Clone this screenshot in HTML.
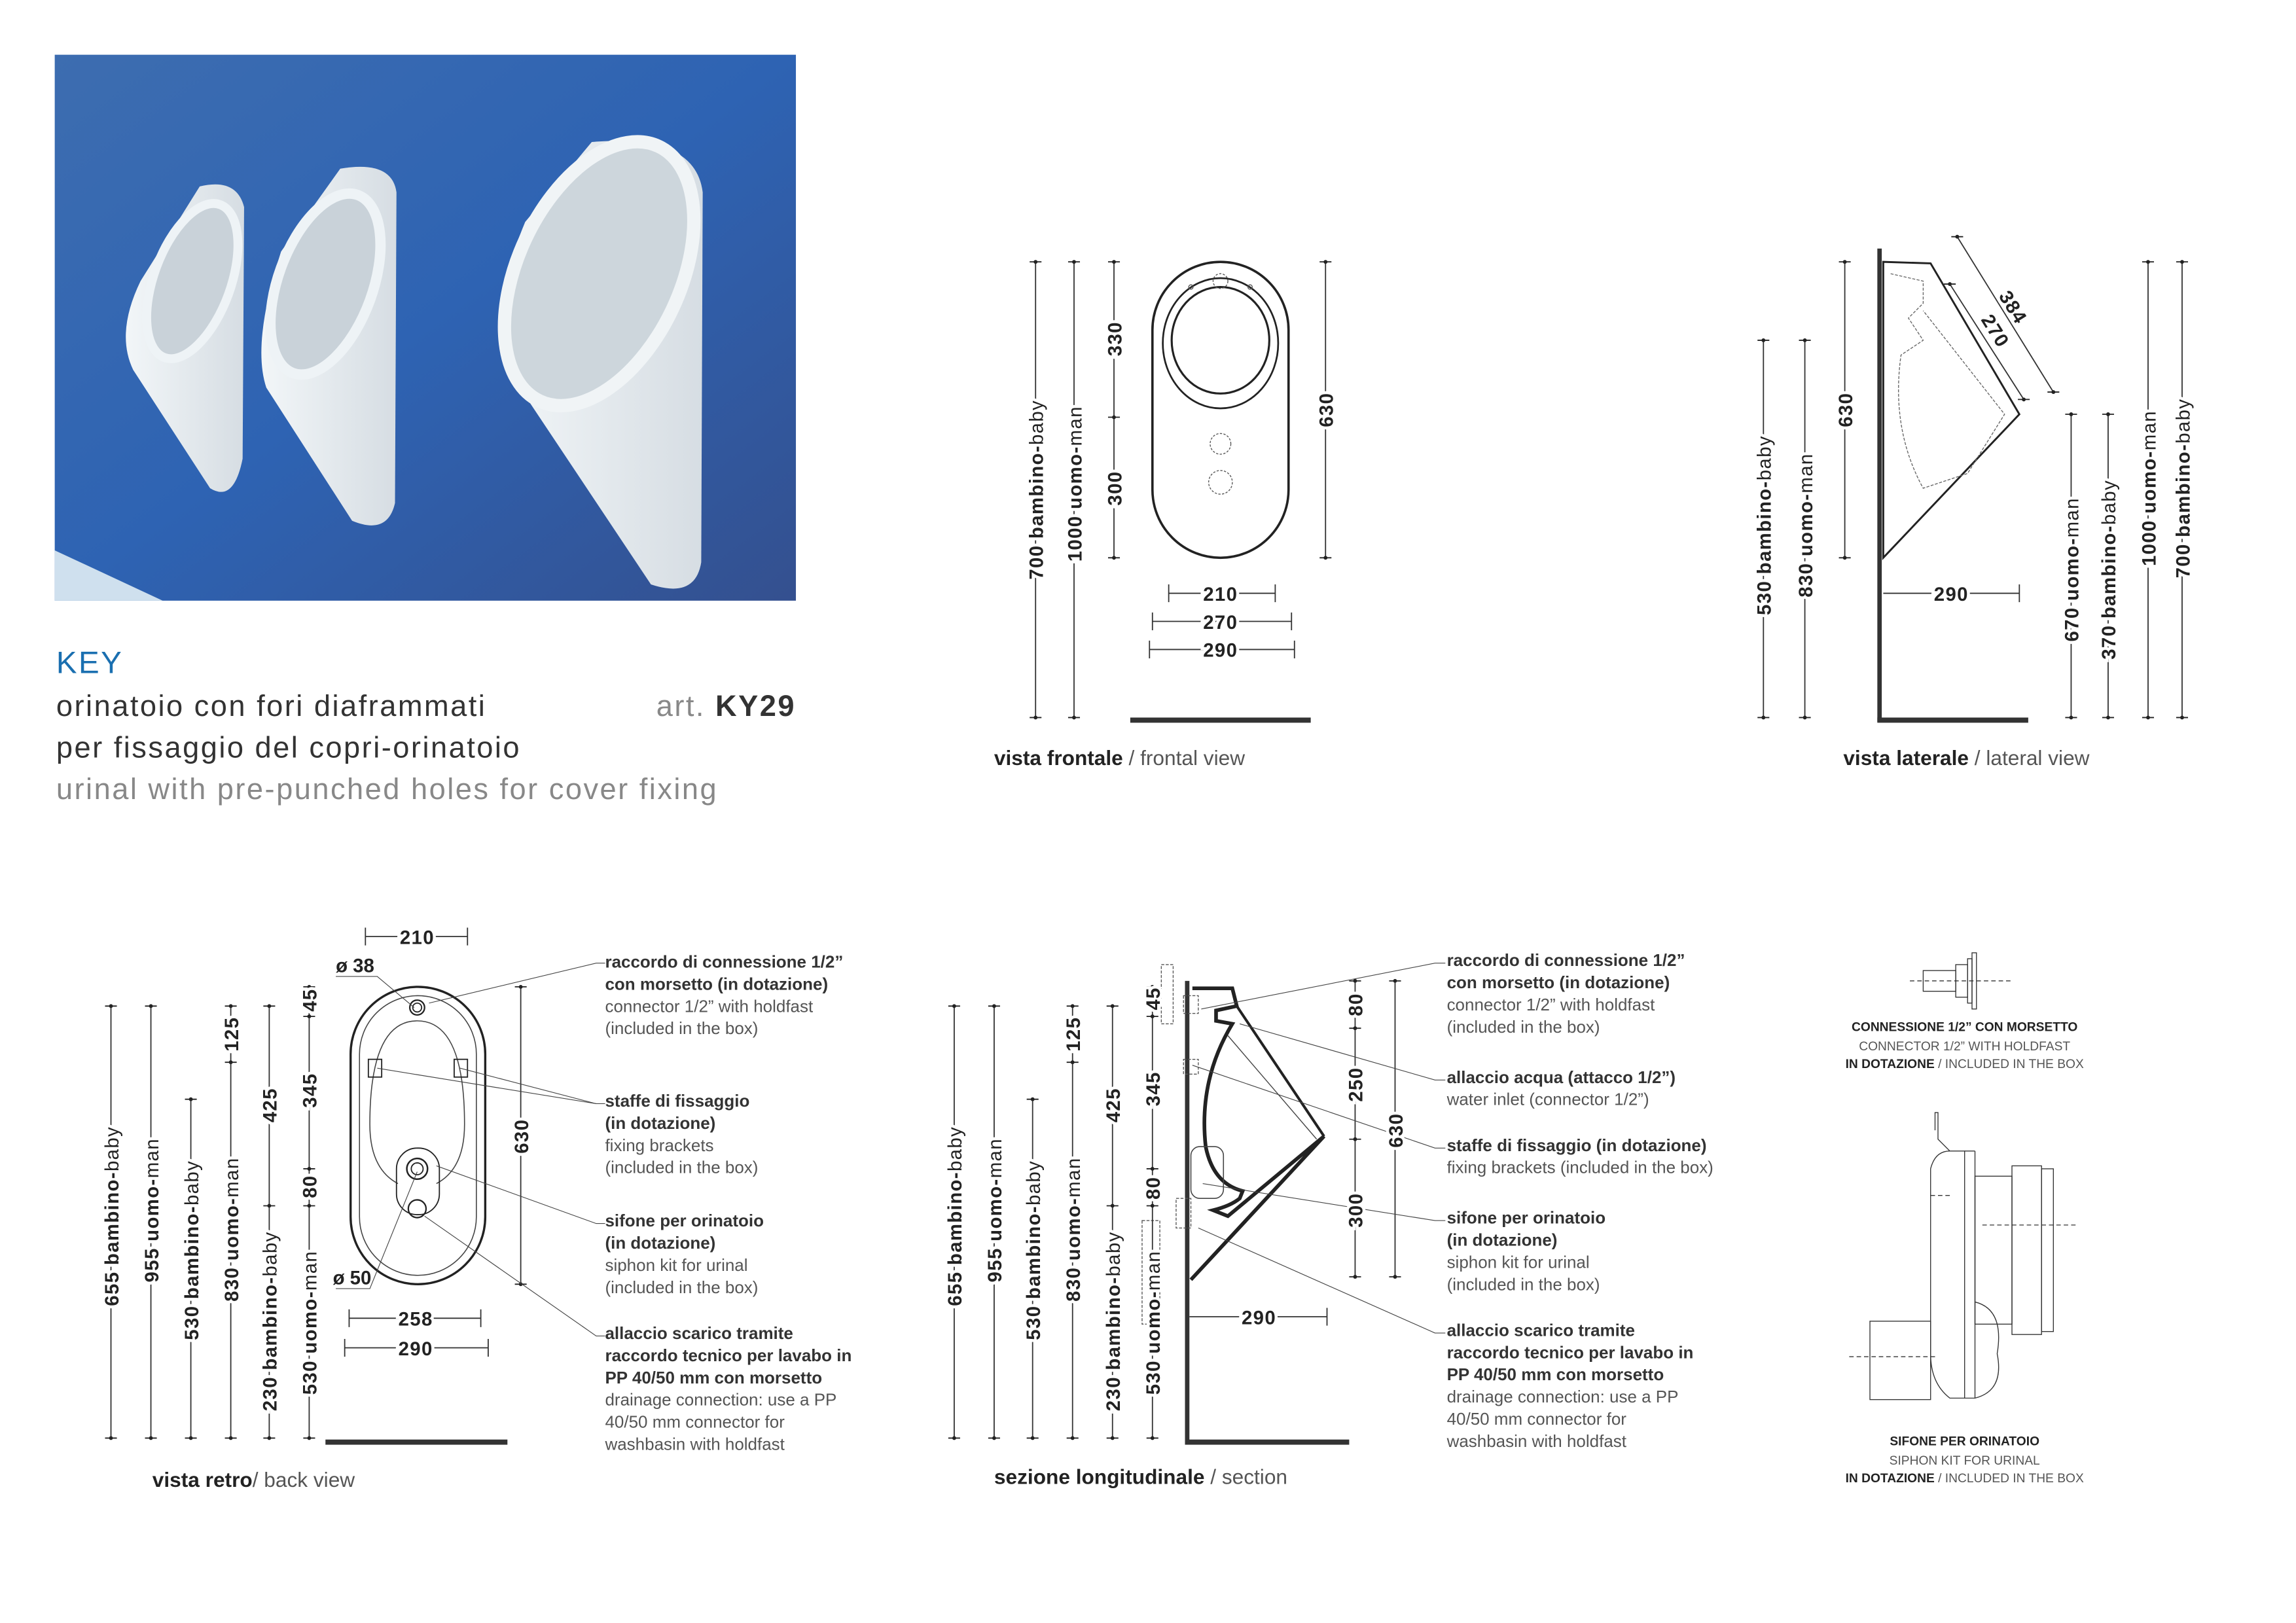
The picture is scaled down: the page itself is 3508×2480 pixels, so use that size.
<!DOCTYPE html>
<html><head><meta charset="utf-8">
<style>
html,body{margin:0;padding:0;background:#fff}
svg{display:block}
text{font-family:"Liberation Sans",sans-serif}
.n{font-family:"Liberation Sans Narrow","Liberation Sans",sans-serif}
.d{font-size:13px;fill:#222;font-weight:bold;stroke:#fff;stroke-width:4px;paint-order:stroke;letter-spacing:0.6px}
.dl{font-weight:normal}
.lb{font-size:11.5px;fill:#333;font-weight:bold}
.lg{font-size:11.5px;fill:#555}
.t{letter-spacing:1.1px}
</style></head><body>
<svg width="3508" height="2480" viewBox="0 0 1552 1097" preserveAspectRatio="none" xmlns="http://www.w3.org/2000/svg">
<defs>
<linearGradient id="bg" x1="0" y1="0" x2="1" y2="1">
<stop offset="0" stop-color="#3d6db0"/><stop offset="0.5" stop-color="#2e63b3"/><stop offset="1" stop-color="#34508f"/>
</linearGradient>
<linearGradient id="wh" x1="0" y1="0" x2="1" y2="0">
<stop offset="0" stop-color="#f2f6f8"/><stop offset="1" stop-color="#d6dde3"/>
</linearGradient>
<g id="tk"><line x1="-4" y1="0" x2="4" y2="0" stroke="#222" stroke-width="0.8"/><circle r="1.3" fill="#222"/></g>
</defs>
<rect width="1552" height="1097" fill="#fff"/>

<!-- photo -->
<rect x="37" y="37" width="501" height="369" fill="url(#bg)"/>
<polygon points="37,372 37,406 110,406" fill="#cfe0ee"/>
<path d="M135,126 Q160,120 165,140 L164,310 Q158,340 142,330 L90,250 Q78,225 95,190 Z" fill="url(#wh)"/>
<ellipse cx="130" cy="190" rx="26" ry="55" transform="rotate(20 130 190)" fill="#c9d2d9" stroke="#eef3f6" stroke-width="6"/>
<path d="M230,114 Q265,108 268,130 L267,340 Q262,362 238,352 L180,262 Q170,232 190,170 Z" fill="url(#wh)"/>
<ellipse cx="220" cy="192" rx="32" ry="64" transform="rotate(20 220 192)" fill="#c9d2d9" stroke="#eef3f6" stroke-width="7"/>
<path d="M400,96 Q470,90 475,130 L474,380 Q470,405 440,395 L340,245 Q330,210 355,150 Z" fill="url(#wh)"/>
<ellipse cx="405" cy="185" rx="55" ry="95" transform="rotate(25 405 185)" fill="#cdd6dc" stroke="#f0f4f6" stroke-width="9"/>

<text x="38" y="455" font-size="21" fill="#1a6fb0" class="t">KEY</text>
<text x="38" y="484" font-size="20" fill="#333" class="t">orinatoio con fori diaframmati</text>
<text x="538" y="484" font-size="20" fill="#888" text-anchor="end" class="t">art. <tspan fill="#333" font-weight="bold">KY29</tspan></text>
<text x="38" y="512" font-size="20" fill="#333" class="t">per fissaggio del copri-orinatoio</text>
<text x="38" y="540" font-size="20" fill="#888" class="t">urinal with pre-punched holes for cover fixing</text>

<!-- FRONTAL VIEW -->
<g stroke="#333" stroke-width="0.8" fill="none">
<line x1="700" y1="177" x2="700" y2="485"/><line x1="726" y1="177" x2="726" y2="485"/>
<line x1="753" y1="177" x2="753" y2="377"/><line x1="896" y1="177" x2="896" y2="377"/>
<line x1="790" y1="401" x2="862" y2="401"/><line x1="779" y1="420" x2="873" y2="420"/><line x1="777" y1="439" x2="875" y2="439"/>
<line x1="790" y1="395" x2="790" y2="407"/><line x1="862" y1="395" x2="862" y2="407"/>
<line x1="779" y1="414" x2="779" y2="426"/><line x1="873" y1="414" x2="873" y2="426"/>
<line x1="777" y1="433" x2="777" y2="445"/><line x1="875" y1="433" x2="875" y2="445"/>
</g>
<g>
<use href="#tk" x="700" y="177"/><use href="#tk" x="700" y="485"/><use href="#tk" x="726" y="177"/><use href="#tk" x="726" y="485"/>
<use href="#tk" x="753" y="177"/><use href="#tk" x="753" y="282"/><use href="#tk" x="753" y="377"/>
<use href="#tk" x="896" y="177"/><use href="#tk" x="896" y="377"/>
</g>
<rect x="779" y="177" width="92" height="200" rx="46" fill="none" stroke="#222" stroke-width="1.6"/>
<ellipse cx="825" cy="232" rx="39" ry="44" fill="none" stroke="#222" stroke-width="1.2"/>
<ellipse cx="825" cy="230" rx="33" ry="36" fill="none" stroke="#222" stroke-width="1.4"/>
<circle cx="825" cy="190" r="5" fill="none" stroke="#555" stroke-width="0.6" stroke-dasharray="1.5 1"/>
<circle cx="805" cy="194" r="1.5" fill="none" stroke="#555" stroke-width="0.6"/><circle cx="845" cy="194" r="1.5" fill="none" stroke="#555" stroke-width="0.6"/>
<circle cx="825" cy="300" r="7" fill="none" stroke="#555" stroke-width="0.6" stroke-dasharray="1.5 1"/>
<circle cx="825" cy="326" r="8" fill="none" stroke="#555" stroke-width="0.6" stroke-dasharray="1.5 1"/>
<text class="d" transform="translate(705,331) rotate(-90)" text-anchor="middle">700 bambino-<tspan class="dl">baby</tspan></text>
<text class="d" transform="translate(731,327) rotate(-90)" text-anchor="middle">1000 uomo-<tspan class="dl">man</tspan></text>
<text class="d" transform="translate(758,229) rotate(-90)" text-anchor="middle">330</text>
<text class="d" transform="translate(758,330) rotate(-90)" text-anchor="middle">300</text>
<text class="d" transform="translate(901,277) rotate(-90)" text-anchor="middle">630</text>
<text class="d n" x="825" y="406" text-anchor="middle">210</text>
<text class="d n" x="825" y="425" text-anchor="middle">270</text>
<text class="d n" x="825" y="444" text-anchor="middle">290</text>
<rect x="764" y="485" width="122" height="3.5" fill="#333"/>
<text x="672" y="517" font-size="14" fill="#222" class="n"><tspan font-weight="bold">vista frontale</tspan> <tspan fill="#555">/ frontal view</tspan></text>

<!-- LATERAL VIEW -->
<rect x="1269" y="168" width="3" height="320" fill="#333"/>
<rect x="1269" y="485" width="102" height="3.5" fill="#333"/>
<polygon points="1273,177 1305,178 1365,280 1273,377" fill="none" stroke="#222" stroke-width="1.3"/>
<path d="M1278,185 L1300,190 L1300,205 L1290,215 L1300,230 L1285,240 Q1278,290 1300,330 L1330,320 L1355,280 L1300,210" fill="none" stroke="#666" stroke-width="0.6" stroke-dasharray="2 1"/>
<g stroke="#333" stroke-width="0.8" fill="none">
<line x1="1192" y1="230" x2="1192" y2="485"/><line x1="1220" y1="230" x2="1220" y2="485"/><line x1="1247" y1="177" x2="1247" y2="377"/>
<line x1="1400" y1="280" x2="1400" y2="485"/><line x1="1425" y1="280" x2="1425" y2="485"/>
<line x1="1452" y1="177" x2="1452" y2="485"/><line x1="1475" y1="177" x2="1475" y2="485"/>
<line x1="1273" y1="401" x2="1365" y2="401"/><line x1="1365" y1="395" x2="1365" y2="407"/>
<line x1="1323" y1="160" x2="1388" y2="265"/><line x1="1318" y1="192" x2="1368" y2="270"/>
</g>
<g>
<use href="#tk" x="1192" y="230"/><use href="#tk" x="1192" y="485"/><use href="#tk" x="1220" y="230"/><use href="#tk" x="1220" y="485"/>
<use href="#tk" x="1247" y="177"/><use href="#tk" x="1247" y="377"/>
<use href="#tk" x="1400" y="280"/><use href="#tk" x="1400" y="485"/><use href="#tk" x="1425" y="280"/><use href="#tk" x="1425" y="485"/>
<use href="#tk" x="1452" y="177"/><use href="#tk" x="1452" y="485"/><use href="#tk" x="1475" y="177"/><use href="#tk" x="1475" y="485"/>
<use href="#tk" x="1323" y="160"/><use href="#tk" x="1388" y="265"/><use href="#tk" x="1318" y="192"/><use href="#tk" x="1368" y="270"/>
</g>
<text class="d" transform="translate(1197,355) rotate(-90)" text-anchor="middle">530 bambino-<tspan class="dl">baby</tspan></text>
<text class="d" transform="translate(1225,355) rotate(-90)" text-anchor="middle">830 uomo-<tspan class="dl">man</tspan></text>
<text class="d" transform="translate(1252,277) rotate(-90)" text-anchor="middle">630</text>
<text class="d" transform="translate(1405,385) rotate(-90)" text-anchor="middle">670 uomo-<tspan class="dl">man</tspan></text>
<text class="d" transform="translate(1430,385) rotate(-90)" text-anchor="middle">370 bambino-<tspan class="dl">baby</tspan></text>
<text class="d" transform="translate(1457,330) rotate(-90)" text-anchor="middle">1000 uomo-<tspan class="dl">man</tspan></text>
<text class="d" transform="translate(1480,330) rotate(-90)" text-anchor="middle">700 bambino-<tspan class="dl">baby</tspan></text>
<text class="d" transform="translate(1357,210) rotate(58)" text-anchor="middle">384</text>
<text class="d" transform="translate(1345,226) rotate(58)" text-anchor="middle">270</text>
<text class="d n" x="1319" y="406" text-anchor="middle">290</text>
<text x="1246" y="517" font-size="14" fill="#222" class="n"><tspan font-weight="bold">vista laterale</tspan> <tspan fill="#555">/ lateral view</tspan></text>

<!-- BACK VIEW -->
<g stroke="#333" stroke-width="0.8" fill="none">
<line x1="75" y1="680" x2="75" y2="972"/><line x1="102" y1="680" x2="102" y2="972"/><line x1="129" y1="743" x2="129" y2="972"/>
<line x1="156" y1="680" x2="156" y2="972"/><line x1="182" y1="680" x2="182" y2="972"/><line x1="209" y1="667" x2="209" y2="972"/>
<line x1="352" y1="667" x2="352" y2="868"/>
<line x1="247" y1="633" x2="316" y2="633"/><line x1="247" y1="627" x2="247" y2="639"/><line x1="316" y1="627" x2="316" y2="639"/>
<line x1="236" y1="891" x2="325" y2="891"/><line x1="236" y1="885" x2="236" y2="897"/><line x1="325" y1="885" x2="325" y2="897"/>
<line x1="233" y1="911" x2="330" y2="911"/><line x1="233" y1="905" x2="233" y2="917"/><line x1="330" y1="905" x2="330" y2="917"/>
</g>
<g>
<use href="#tk" x="75" y="680"/><use href="#tk" x="75" y="972"/><use href="#tk" x="102" y="680"/><use href="#tk" x="102" y="972"/>
<use href="#tk" x="129" y="743"/><use href="#tk" x="129" y="972"/><use href="#tk" x="156" y="680"/><use href="#tk" x="156" y="718"/><use href="#tk" x="156" y="972"/>
<use href="#tk" x="182" y="680"/><use href="#tk" x="182" y="815"/><use href="#tk" x="182" y="972"/>
<use href="#tk" x="209" y="667"/><use href="#tk" x="209" y="687"/><use href="#tk" x="209" y="790"/><use href="#tk" x="209" y="815"/><use href="#tk" x="209" y="972"/>
<use href="#tk" x="352" y="667"/><use href="#tk" x="352" y="868"/>
</g>
<rect x="237" y="667" width="91" height="201" rx="45.5" fill="none" stroke="#222" stroke-width="1.5"/>
<rect x="243" y="673" width="79" height="189" rx="39.5" fill="none" stroke="#444" stroke-width="0.7"/>
<path d="M250,760 Q250,690 282,690 Q314,690 314,760 Q314,790 295,800 M250,760 Q250,790 269,800" fill="none" stroke="#444" stroke-width="0.7"/>
<circle cx="282" cy="681" r="5" fill="none" stroke="#222" stroke-width="1"/><circle cx="282" cy="681" r="3" fill="none" stroke="#222" stroke-width="0.8"/>
<rect x="249" y="716" width="9" height="12" fill="none" stroke="#222" stroke-width="0.8"/><rect x="307" y="716" width="9" height="12" fill="none" stroke="#222" stroke-width="0.8"/>
<rect x="268" y="776" width="29" height="45" rx="14" fill="none" stroke="#222" stroke-width="0.8"/>
<circle cx="282" cy="790" r="7" fill="none" stroke="#222" stroke-width="1.1"/><circle cx="282" cy="790" r="4" fill="none" stroke="#222" stroke-width="0.8"/>
<circle cx="282" cy="817" r="6" fill="none" stroke="#222" stroke-width="1"/>
<g stroke="#444" stroke-width="0.5" fill="none">
<polyline points="227,660 255,660 280,681"/><polyline points="227,871 250,871 282,792"/>
<polyline points="290,678 403,651 409,651"/><polyline points="255,722 403,746 409,746"/><polyline points="311,722 403,746"/>
<polyline points="295,788 403,827 409,827"/><polyline points="287,822 403,903 409,903"/>
</g>
<text x="227" y="657" font-size="13" font-weight="bold" fill="#222" class="n">ø 38</text>
<text x="225" y="868" font-size="13" font-weight="bold" fill="#222" class="n">ø 50</text>
<text class="d n" x="282" y="638" text-anchor="middle">210</text>
<text class="d n" x="281" y="896" text-anchor="middle">258</text>
<text class="d n" x="281" y="916" text-anchor="middle">290</text>
<text class="d" transform="translate(357,768) rotate(-90)" text-anchor="middle">630</text>
<text class="d" transform="translate(80,822) rotate(-90)" text-anchor="middle">655 bambino-<tspan class="dl">baby</tspan></text>
<text class="d" transform="translate(107,818) rotate(-90)" text-anchor="middle">955 uomo-<tspan class="dl">man</tspan></text>
<text class="d" transform="translate(134,845) rotate(-90)" text-anchor="middle">530 bambino-<tspan class="dl">baby</tspan></text>
<text class="d" transform="translate(161,831) rotate(-90)" text-anchor="middle">830 uomo-<tspan class="dl">man</tspan></text>
<text class="d" transform="translate(161,699) rotate(-90)" text-anchor="middle">125</text>
<text class="d" transform="translate(187,747) rotate(-90)" text-anchor="middle">425</text>
<text class="d" transform="translate(187,893) rotate(-90)" text-anchor="middle">230 bambino-<tspan class="dl">baby</tspan></text>
<text class="d" transform="translate(214,676) rotate(-90)" text-anchor="middle">45</text>
<text class="d" transform="translate(214,737) rotate(-90)" text-anchor="middle">345</text>
<text class="d" transform="translate(214,802) rotate(-90)" text-anchor="middle">80</text>
<text class="d" transform="translate(214,894) rotate(-90)" text-anchor="middle">530 uomo-<tspan class="dl">man</tspan></text>
<rect x="220" y="973" width="123" height="3.5" fill="#333"/>
<text x="103" y="1005" font-size="14" fill="#222" class="n"><tspan font-weight="bold">vista retro</tspan><tspan fill="#555">/ back view</tspan></text>
<g class="n">
<text x="409" y="654" class="lb">raccordo di connessione 1/2”</text>
<text x="409" y="669" class="lb">con morsetto (in dotazione)</text>
<text x="409" y="684" class="lg">connector 1/2” with holdfast</text>
<text x="409" y="699" class="lg">(included in the box)</text>
<text x="409" y="748" class="lb">staffe di fissaggio</text>
<text x="409" y="763" class="lb">(in dotazione)</text>
<text x="409" y="778" class="lg">fixing brackets</text>
<text x="409" y="793" class="lg">(included in the box)</text>
<text x="409" y="829" class="lb">sifone per orinatoio</text>
<text x="409" y="844" class="lb">(in dotazione)</text>
<text x="409" y="859" class="lg">siphon kit for urinal</text>
<text x="409" y="874" class="lg">(included in the box)</text>
<text x="409" y="905" class="lb">allaccio scarico tramite</text>
<text x="409" y="920" class="lb">raccordo tecnico per lavabo in</text>
<text x="409" y="935" class="lb">PP 40/50 mm con morsetto</text>
<text x="409" y="950" class="lg">drainage connection: use a PP</text>
<text x="409" y="965" class="lg">40/50 mm connector for</text>
<text x="409" y="980" class="lg">washbasin with holdfast</text>
</g>

<!-- SECTION -->
<rect x="801" y="663" width="3" height="313" fill="#333"/>
<rect x="801" y="973" width="111" height="3.5" fill="#333"/>
<path d="M806,668 L833,668 L836,680 L822,683 L822,690 L833,692 Q810,730 815,775 Q820,800 840,805 L838,810 Q832,815 820,818 L830,822 L895,768 L805,865" fill="none" stroke="#222" stroke-width="2.5"/>
<path d="M836,680 L895,768" fill="none" stroke="#222" stroke-width="1.8"/>
<path d="M830,700 L890,770" fill="none" stroke="#444" stroke-width="0.6"/>
<rect x="785" y="652" width="8" height="40" fill="none" stroke="#555" stroke-width="0.6" stroke-dasharray="2 1"/>
<rect x="800" y="673" width="10" height="12" fill="none" stroke="#555" stroke-width="0.6" stroke-dasharray="2 1"/>
<rect x="800" y="716" width="10" height="10" fill="none" stroke="#555" stroke-width="0.6" stroke-dasharray="2 1"/>
<rect x="805" y="775" width="22" height="35" rx="6" fill="none" stroke="#444" stroke-width="0.7"/>
<rect x="795" y="810" width="10" height="20" fill="none" stroke="#555" stroke-width="0.6" stroke-dasharray="2 1"/>
<rect x="772" y="825" width="12" height="70" fill="none" stroke="#555" stroke-width="0.6" stroke-dasharray="2 1"/>
<g stroke="#333" stroke-width="0.8" fill="none">
<line x1="645" y1="680" x2="645" y2="972"/><line x1="672" y1="680" x2="672" y2="972"/><line x1="698" y1="743" x2="698" y2="972"/>
<line x1="725" y1="680" x2="725" y2="972"/><line x1="752" y1="680" x2="752" y2="972"/><line x1="779" y1="667" x2="779" y2="972"/>
<line x1="916" y1="663" x2="916" y2="863"/><line x1="943" y1="663" x2="943" y2="863"/>
<line x1="804" y1="890" x2="897" y2="890"/><line x1="897" y1="884" x2="897" y2="896"/>
</g>
<g stroke="#444" stroke-width="0.5" fill="none">
<polyline points="812,682 970,651 977,651"/><polyline points="838,692 970,730 977,730"/>
<polyline points="806,720 970,776 977,776"/><polyline points="813,800 970,825 977,825"/><polyline points="810,830 970,901 977,901"/>
</g>
<g>
<use href="#tk" x="645" y="680"/><use href="#tk" x="645" y="972"/><use href="#tk" x="672" y="680"/><use href="#tk" x="672" y="972"/>
<use href="#tk" x="698" y="743"/><use href="#tk" x="698" y="972"/><use href="#tk" x="725" y="680"/><use href="#tk" x="725" y="718"/><use href="#tk" x="725" y="972"/>
<use href="#tk" x="752" y="680"/><use href="#tk" x="752" y="815"/><use href="#tk" x="752" y="972"/>
<use href="#tk" x="779" y="667"/><use href="#tk" x="779" y="687"/><use href="#tk" x="779" y="790"/><use href="#tk" x="779" y="815"/><use href="#tk" x="779" y="972"/>
<use href="#tk" x="916" y="663"/><use href="#tk" x="916" y="695"/><use href="#tk" x="916" y="770"/><use href="#tk" x="916" y="863"/>
<use href="#tk" x="943" y="663"/><use href="#tk" x="943" y="863"/>
</g>
<text class="d" transform="translate(650,822) rotate(-90)" text-anchor="middle">655 bambino-<tspan class="dl">baby</tspan></text>
<text class="d" transform="translate(677,818) rotate(-90)" text-anchor="middle">955 uomo-<tspan class="dl">man</tspan></text>
<text class="d" transform="translate(703,845) rotate(-90)" text-anchor="middle">530 bambino-<tspan class="dl">baby</tspan></text>
<text class="d" transform="translate(730,831) rotate(-90)" text-anchor="middle">830 uomo-<tspan class="dl">man</tspan></text>
<text class="d" transform="translate(730,699) rotate(-90)" text-anchor="middle">125</text>
<text class="d" transform="translate(757,747) rotate(-90)" text-anchor="middle">425</text>
<text class="d" transform="translate(757,893) rotate(-90)" text-anchor="middle">230 bambino-<tspan class="dl">baby</tspan></text>
<text class="d" transform="translate(784,675) rotate(-90)" text-anchor="middle">45</text>
<text class="d" transform="translate(784,736) rotate(-90)" text-anchor="middle">345</text>
<text class="d" transform="translate(784,803) rotate(-90)" text-anchor="middle">80</text>
<text class="d" transform="translate(784,894) rotate(-90)" text-anchor="middle">530 uomo-<tspan class="dl">man</tspan></text>
<text class="d" transform="translate(921,679) rotate(-90)" text-anchor="middle">80</text>
<text class="d" transform="translate(921,733) rotate(-90)" text-anchor="middle">250</text>
<text class="d" transform="translate(921,818) rotate(-90)" text-anchor="middle">300</text>
<text class="d" transform="translate(948,764) rotate(-90)" text-anchor="middle">630</text>
<text class="d n" x="851" y="895" text-anchor="middle">290</text>
<text x="672" y="1003" font-size="14" fill="#222" class="n"><tspan font-weight="bold">sezione longitudinale</tspan> <tspan fill="#555">/ section</tspan></text>
<g class="n">
<text x="978" y="653" class="lb">raccordo di connessione 1/2”</text>
<text x="978" y="668" class="lb">con morsetto (in dotazione)</text>
<text x="978" y="683" class="lg">connector 1/2” with holdfast</text>
<text x="978" y="698" class="lg">(included in the box)</text>
<text x="978" y="732" class="lb">allaccio acqua (attacco 1/2”)</text>
<text x="978" y="747" class="lg">water inlet (connector 1/2”)</text>
<text x="978" y="778" class="lb">staffe di fissaggio (in dotazione)</text>
<text x="978" y="793" class="lg">fixing brackets (included in the box)</text>
<text x="978" y="827" class="lb">sifone per orinatoio</text>
<text x="978" y="842" class="lb">(in dotazione)</text>
<text x="978" y="857" class="lg">siphon kit for urinal</text>
<text x="978" y="872" class="lg">(included in the box)</text>
<text x="978" y="903" class="lb">allaccio scarico tramite</text>
<text x="978" y="918" class="lb">raccordo tecnico per lavabo in</text>
<text x="978" y="933" class="lb">PP 40/50 mm con morsetto</text>
<text x="978" y="948" class="lg">drainage connection: use a PP</text>
<text x="978" y="963" class="lg">40/50 mm connector for</text>
<text x="978" y="978" class="lg">washbasin with holdfast</text>
</g>

<!-- Right illustrations -->
<g stroke="#333" stroke-width="0.6" fill="none">
<rect x="1300" y="656" width="22" height="14"/>
<rect x="1322" y="652" width="8" height="22"/><rect x="1330" y="648" width="3" height="30"/><rect x="1333" y="644" width="3" height="38"/>
<line x1="1291" y1="663" x2="1360" y2="663" stroke-dasharray="3 2"/>
<path d="M1308,764 L1308,752 L1310,752 L1310,770 L1318,778 L1328,778 L1328,945 L1318,945 Q1305,935 1305,915 L1305,790 Q1308,778 1318,778"/>
<line x1="1328" y1="778" x2="1335" y2="778"/><line x1="1335" y1="778" x2="1335" y2="945"/><line x1="1328" y1="945" x2="1335" y2="945"/>
<rect x="1335" y="795" width="25" height="100"/><rect x="1360" y="788" width="20" height="114"/><rect x="1380" y="790" width="8" height="110"/>
<path d="M1335,880 Q1355,885 1350,915 Q1355,940 1335,945"/>
<rect x="1264" y="893" width="41" height="53"/>
<line x1="1250" y1="917" x2="1310" y2="917" stroke-dasharray="3 2"/>
<line x1="1340" y1="828" x2="1405" y2="828" stroke-dasharray="3 2"/>
<line x1="1305" y1="808" x2="1320" y2="808" stroke-dasharray="3 2"/>
</g>
<g class="n" text-anchor="middle" font-size="8.5">
<text x="1328" y="697" font-weight="bold" fill="#222">CONNESSIONE 1/2” CON MORSETTO</text>
<text x="1328" y="710" fill="#555">CONNECTOR 1/2” WITH HOLDFAST</text>
<text x="1328" y="722" fill="#555"><tspan font-weight="bold" fill="#222">IN DOTAZIONE</tspan> / INCLUDED IN THE BOX</text>
<text x="1328" y="977" font-weight="bold" fill="#222">SIFONE PER ORINATOIO</text>
<text x="1328" y="990" fill="#555">SIPHON KIT FOR URINAL</text>
<text x="1328" y="1002" fill="#555"><tspan font-weight="bold" fill="#222">IN DOTAZIONE</tspan> / INCLUDED IN THE BOX</text>
</g>
</svg>
</body></html>
